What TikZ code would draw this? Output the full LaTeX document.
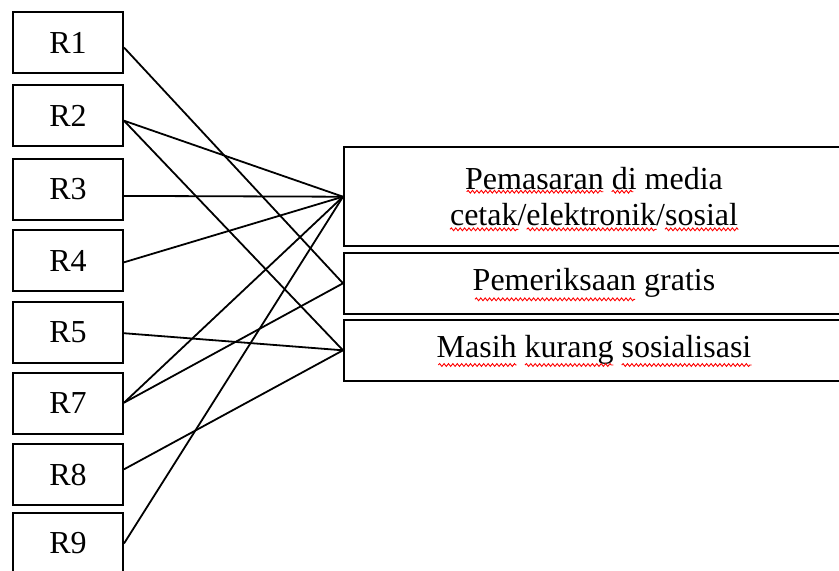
\documentclass[tikz,border=0pt]{standalone}
\usepackage{fontspec}
\setmainfont{Liberation Serif}
\usepackage{tikz}
\usetikzlibrary{decorations.pathmorphing}

\begin{document}
\begin{tikzpicture}[x=0.5pt,y=-0.5pt,
		resp/.style={draw,line width=1pt,minimum width=55pt,minimum height=30.5pt,inner sep=0pt,font=\fontsize{16}{18}\selectfont},
		reason/.style={draw,line width=1pt,minimum width=250pt,inner sep=0pt,align=center,font=\fontsize{16}{18}\selectfont},
		link/.style={line width=0.9pt},
		squiggle/.style={red,line width=0.45pt,decorate,decoration={snake,segment length=2.2pt,amplitude=0.7pt}}]
		
		\clip (0,0) rectangle (839,570);
		
		\foreach \y/\lab in {42.5/1, 115.9/2, 189.5/3, 260.5/4, 332/5, 403.3/7, 474.7/8, 543.5/9}
		{
			\node[resp] (r\lab) at (68,\y) {R\lab};
		}
		
		\node[reason,minimum height=49.3pt] (pemasaran) at (594,196.7) {Pemasaran di media\\cetak/elektronik/sosial};
		\node[reason,minimum height=30.6pt] (pemeriksaan) at (594,283.3) {Pemeriksaan gratis};
		\node[reason,minimum height=30.3pt] (sosialisasi) at (594,350.3) {Masih kurang sosialisasi};
		
		\foreach \a/\dy/\b in {r1/-2.5/pemeriksaan, r2/-2.4/pemasaran, r2/-2.4/sosialisasi, r3/-3.2/pemasaran, r4/-0.9/pemasaran, r5/-0.6/sosialisasi, r7/0.3/pemasaran, r7/0.3/pemeriksaan, r8/2.7/sosialisasi, r9/0/pemasaran}
		{
			\draw[link] ([yshift=\dy pt]\a.east) -- (\b.west);
		}
		
		% spelling marks under the words
		\foreach \xa/\xb/\y in {466.7/603.3/191.7, 611.7/633.3/191.7, 450/518.3/229.3, 526.7/656.7/229.3, 665/738.3/229.3, 475/635/299.3, 438.3/516.7/365, 525/613.3/365, 621.7/751.7/365}
		{
			\draw[squiggle] (\xa,\y) -- (\xb,\y);
		}
		
	\end{tikzpicture}
\end{document}
